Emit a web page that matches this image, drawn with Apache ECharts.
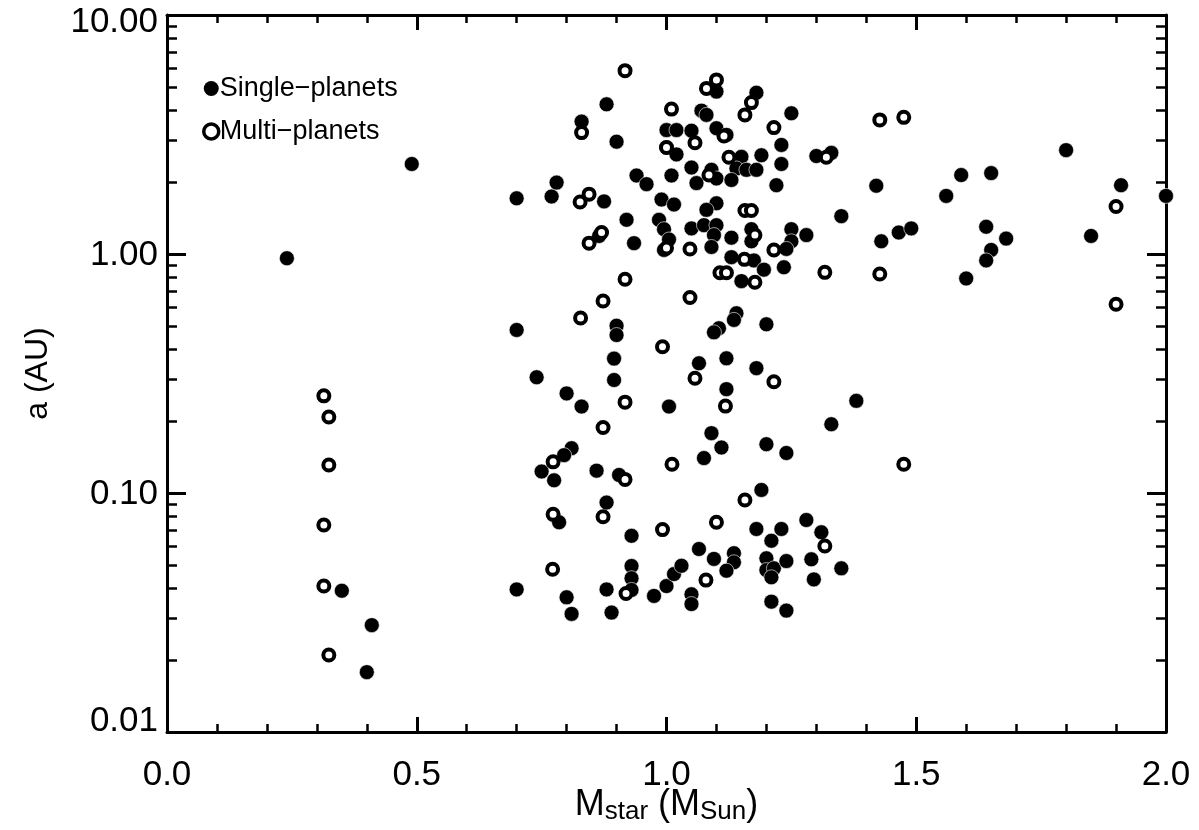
<!DOCTYPE html>
<html>
<head>
<meta charset="utf-8">
<script src="https://cdn.jsdelivr.net/npm/echarts@6/dist/echarts.min.js"></script>
<style>
html, body { margin: 0; padding: 0; background: #fff; }
#chart { width: 1199px; height: 830px; }
</style>
</head>
<body>
<div id="chart"></div>
<script>
// stellar mass (M_sun), semi-major axis (AU)
var singlePlanets = [
  [0.24, 0.96], [0.49, 2.38], [0.35, 0.039], [0.41, 0.028], [0.40, 0.0178],
  [1.10, 4.78], [1.18, 4.73], [1.25, 3.88], [0.88, 4.23], [1.07, 3.98], [1.08, 3.82],
  [0.83, 3.58], [1.00, 3.30], [1.02, 3.30], [1.05, 3.28], [1.10, 3.36], [1.12, 3.15],
  [0.90, 2.95], [1.00, 2.79], [1.02, 2.61], [1.23, 2.86], [1.23, 2.38], [1.15, 2.55],
  [1.19, 2.59], [1.30, 2.57], [1.33, 2.65], [1.05, 2.30], [1.09, 2.25], [1.10, 2.07],
  [1.14, 2.28], [1.16, 2.25], [1.18, 2.25], [0.94, 2.13], [0.96, 1.96], [1.01, 2.13],
  [1.06, 1.98], [1.13, 2.04], [1.22, 1.94], [0.70, 1.71], [0.77, 1.74], [0.78, 1.99],
  [0.875, 1.66], [0.99, 1.69], [1.015, 1.61], [1.10, 1.63], [1.08, 1.53], [1.35, 1.44],
  [0.92, 1.39], [0.935, 1.11], [0.985, 1.39], [0.995, 1.27], [1.05, 1.28], [1.075, 1.32],
  [1.10, 1.32], [1.095, 1.20], [1.09, 1.07], [1.13, 1.17], [1.17, 1.27], [1.17, 1.13],
  [1.25, 1.27], [1.25, 1.13], [1.24, 1.05], [1.28, 1.20], [0.865, 1.19], [1.005, 1.15],
  [0.995, 1.04], [1.13, 0.97], [1.175, 0.94], [1.195, 0.86], [1.235, 0.88], [1.15, 0.77],
  [1.14, 0.565], [1.135, 0.53], [1.105, 0.489], [1.095, 0.47], [1.20, 0.508],
  [1.80, 2.72], [1.59, 2.14], [1.65, 2.18], [1.42, 1.93], [1.91, 1.94], [1.56, 1.75],
  [2.00, 1.75], [1.43, 1.13], [1.465, 1.23], [1.49, 1.28], [1.64, 1.30], [1.68, 1.16],
  [1.65, 1.04], [1.64, 0.94], [1.85, 1.19], [1.60, 0.79], [1.38, 0.243], [1.33, 0.194],
  [1.35, 0.0484],
  [0.70, 0.481], [0.90, 0.501], [0.90, 0.458], [0.895, 0.365], [1.065, 0.349], [1.12, 0.366],
  [1.18, 0.333], [0.74, 0.305], [0.895, 0.297], [1.12, 0.272], [0.80, 0.261], [0.83, 0.230],
  [1.005, 0.230], [1.09, 0.178], [1.11, 0.155], [1.075, 0.140], [1.20, 0.160], [1.24, 0.147],
  [0.81, 0.154], [0.795, 0.144], [0.75, 0.123], [0.775, 0.113], [0.86, 0.124], [0.905, 0.119],
  [1.19, 0.103], [0.88, 0.0912], [0.785, 0.0754], [1.28, 0.0771], [0.93, 0.0662],
  [1.18, 0.0707], [1.23, 0.0707], [1.21, 0.0631], [1.31, 0.0685], [1.065, 0.0583],
  [1.095, 0.053], [1.135, 0.056], [1.135, 0.0513], [1.12, 0.0473], [1.20, 0.0533],
  [1.20, 0.0476], [1.215, 0.0484], [1.21, 0.0444], [1.24, 0.0519], [1.29, 0.0528],
  [1.295, 0.0435], [0.70, 0.0395], [0.80, 0.0366], [0.81, 0.0312], [0.88, 0.0395],
  [0.89, 0.0316], [0.93, 0.0495], [0.93, 0.044], [0.93, 0.0393], [0.975, 0.0371],
  [1.00, 0.0408], [1.015, 0.0458], [1.03, 0.0496], [1.05, 0.0377], [1.05, 0.0343],
  [1.21, 0.0351], [1.24, 0.0322]
];

var multiPlanets = [
  [0.314, 0.255], [0.324, 0.208], [0.324, 0.131], [0.314, 0.0735], [0.314, 0.0408], [0.324, 0.021],
  [0.917, 5.85], [1.10, 5.35], [1.08, 4.93], [1.17, 4.30], [1.157, 3.82], [1.01, 4.04],
  [0.83, 3.22], [1.215, 3.38], [1.115, 3.12], [1.057, 2.92], [1.00, 2.79], [1.125, 2.54],
  [1.32, 2.54], [1.085, 2.14], [1.427, 3.64], [1.475, 3.73],
  [0.845, 1.78], [0.827, 1.65], [1.157, 1.52], [1.17, 1.52], [0.87, 1.23], [0.845, 1.11],
  [1.00, 1.06], [1.047, 1.05], [1.215, 1.04], [1.177, 1.20], [1.156, 0.95], [1.107, 0.835],
  [1.12, 0.835], [1.177, 0.762], [1.317, 0.838], [1.427, 0.825], [1.90, 1.58], [1.90, 0.616],
  [0.917, 0.784], [0.873, 0.636], [1.047, 0.658], [0.828, 0.54], [0.992, 0.409],
  [1.057, 0.302], [1.215, 0.292], [1.118, 0.231], [0.917, 0.240], [0.873, 0.188],
  [1.475, 0.132], [0.773, 0.135], [0.917, 0.114], [1.011, 0.132], [1.157, 0.0935],
  [0.773, 0.0814], [0.873, 0.0796], [0.992, 0.0703], [1.10, 0.0754], [1.317, 0.060],
  [0.772, 0.048], [0.919, 0.038], [1.079, 0.0432]
];

var yMajorTicks = [0.01, 0.1, 1, 10];
var yMinorTicks = [0.02, 0.03, 0.04, 0.05, 0.06, 0.07, 0.08, 0.09,
                   0.2, 0.3, 0.4, 0.5, 0.6, 0.7, 0.8, 0.9,
                   2, 3, 4, 5, 6, 7, 8, 9];

var font = 'Liberation Sans, Arial, Helvetica, sans-serif';
var black = '#000';

function xAxisCfg(pos) {
    return {
        type: 'value', min: 0, max: 2, interval: 0.5, position: pos,
        axisLine: {show: true, onZero: false, lineStyle: {color: black, width: 3}},
        axisTick: {show: true, inside: true, length: 15, lineStyle: {color: black, width: 3}},
        minorTick: {show: true, splitNumber: 5, length: 8, lineStyle: {color: black, width: 2.5}},
        splitLine: {show: false},
        axisLabel: {show: pos === 'bottom', fontSize: 35, color: black, fontFamily: font, margin: 26,
            formatter: function (v) { return v.toFixed(1); }}
    };
}

function yAxisCfg(pos, major) {
    return {
        type: 'log', logBase: 10, min: 0.01, max: 10, position: pos,
        axisLine: {show: major, onZero: false, lineStyle: {color: black, width: 3}},
        axisTick: {show: true, inside: true, length: major ? 19 : 10,
            customValues: major ? yMajorTicks : yMinorTicks,
            lineStyle: {color: black, width: major ? 3 : 2.5}},
        splitLine: {show: false},
        axisLabel: {show: major && pos === 'left', color: black, margin: 9,
            formatter: function (v) {
                var t = v.toFixed(2);
                if (v >= 10) return '{hi|' + t + '}';
                if (v <= 0.01) return '{lo|' + t + '}';
                return '{n|' + t + '}';
            },
            rich: {
                n: {fontSize: 35, fontFamily: font, color: black, padding: [3, 0, 0, 0]},
                hi: {fontSize: 35, fontFamily: font, color: black, padding: [14, 0, 0, 0]},
                lo: {fontSize: 35, fontFamily: font, color: black, padding: [0, 0, 22, 0]}
            }
        }
    };
}

var xMain = xAxisCfg('bottom');
xMain.name = '{m|M}{s|star}{m| (M}{s|Sun}{m|)}';
xMain.nameLocation = 'middle';
xMain.nameGap = 55;
xMain.nameMoveOverlap = false;
xMain.nameTextStyle = {
    rich: {
        m: {fontSize: 36, fontFamily: font, color: black, lineHeight: 38, verticalAlign: 'top'},
        s: {fontSize: 26, fontFamily: font, color: black, lineHeight: 26, verticalAlign: 'bottom', padding: [22, 0, 0, 0]}
    }
};

var yMain = yAxisCfg('left', true);
yMain.name = 'a (AU)';
yMain.nameLocation = 'middle';
yMain.nameGap = 113;
yMain.nameMoveOverlap = false;
yMain.nameTextStyle = {fontSize: 32, fontFamily: font, color: black};

var chart = echarts.init(document.getElementById('chart'));
chart.setOption({
    animation: false,
    backgroundColor: '#fff',
    grid: {left: 167, right: 33, top: 15, bottom: 98, containLabel: false, outerBoundsMode: 'none'},
    legend: {
        orient: 'vertical', left: 197, top: 70,
        itemWidth: 15, itemHeight: 15, itemGap: 16,
        selectedMode: false,
        textStyle: {fontSize: 27, color: black, fontFamily: font, padding: [0, 0, 0, -4]},
        data: [
            {name: 'Single−planets', icon: 'circle', itemStyle: {color: black, opacity: 1, borderWidth: 0}},
            {name: 'Multi−planets', icon: 'circle', itemStyle: {color: '#fff', opacity: 1, borderColor: black, borderWidth: 3.5}}
        ]
    },
    xAxis: [xMain, xAxisCfg('top')],
    yAxis: [yMain, yAxisCfg('left', false), yAxisCfg('right', true), yAxisCfg('right', false)],
    series: [
        {
            name: 'Single−planets', type: 'scatter', xAxisIndex: 0, yAxisIndex: 0,
            data: singlePlanets, symbol: 'circle', symbolSize: 15,
            itemStyle: {color: black, opacity: 1, borderColor: '#fff', borderWidth: 0.6},
            emphasis: {disabled: true}, z: 2
        },
        {
            name: 'Multi−planets', type: 'scatter', xAxisIndex: 0, yAxisIndex: 0,
            data: multiPlanets, symbol: 'circle', symbolSize: 11,
            itemStyle: {color: '#fff', opacity: 1, borderColor: black, borderWidth: 4},
            emphasis: {disabled: true}, z: 3
        }
    ]
});
</script>
</body>
</html>
